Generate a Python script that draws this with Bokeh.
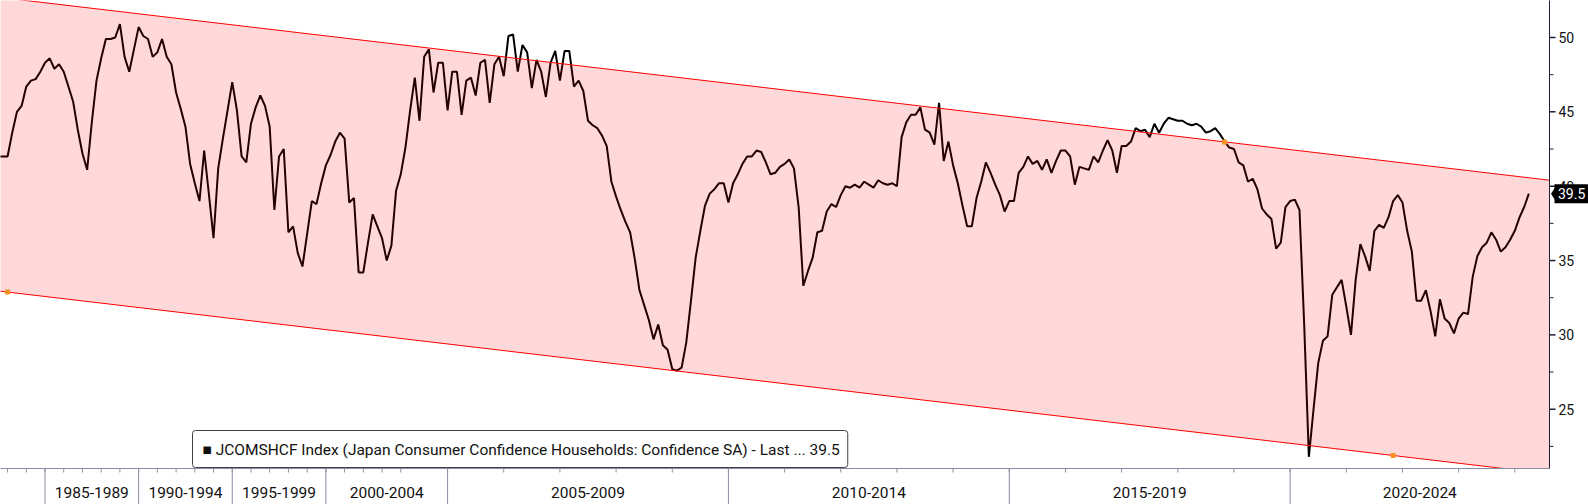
from bokeh.plotting import figure
from bokeh.models import Range1d, Label
from bokeh.core.properties import value
from bokeh.embed import file_html
from bokeh.resources import INLINE

# Observation index: quarterly 1982Q2..2004Q1 (88 obs), then monthly 2004-04..2024-03 (240 obs)
quarterly_values = [
    42.0, 42.0, 42.0, 43.6, 45.0, 45.4, 46.7, 47.1, 47.2, 47.7,
    48.3, 48.6, 47.9, 48.2, 47.7, 46.7, 45.7, 43.8, 42.2, 41.1,
    44.3, 47.1, 48.6, 49.9, 49.9, 50.0, 50.9, 48.7, 47.7, 49.2,
    50.7, 50.1, 49.9, 48.7, 49.0, 49.9, 48.7, 48.2, 46.3, 45.2,
    44.0, 41.5, 40.2, 39.0, 42.4, 39.5, 36.5, 41.2, 43.2, 45.1,
    47.0, 45.1, 42.0, 41.6, 44.2, 45.3, 46.1, 45.4, 44.0, 38.4,
    42.0, 42.5, 36.9, 37.3, 35.5, 34.6, 36.8, 39.0, 38.8, 40.2,
    41.4, 42.1, 43.0, 43.6, 43.2, 38.9, 39.2, 34.2, 34.2, 36.2,
    38.1, 37.3, 36.5, 35.0, 36.0, 39.7, 40.8, 42.6,
]
monthly_values = [
    45.1, 47.3, 44.4, 48.7, 49.2, 46.3, 48.3, 48.3, 45.1, 47.7,
    47.7, 44.8, 47.1, 47.3, 46.1, 48.3, 48.5, 45.6, 48.2, 48.7,
    47.4, 50.1, 50.2, 47.7, 49.5, 49.0, 46.6, 48.5, 47.7, 46.0,
    48.3, 49.1, 47.1, 49.1, 49.1, 46.7, 47.1, 46.4, 44.4, 44.1,
    43.9, 43.4, 42.7, 40.3, 39.3, 38.4, 37.6, 36.9, 35.1, 33.0,
    32.0, 31.0, 29.7, 30.7, 29.3, 29.0, 27.7, 27.6, 27.8, 29.5,
    32.3, 35.2, 37.0, 38.7, 39.5, 39.8, 40.2, 40.2, 38.9, 40.2,
    40.8, 41.5, 42.0, 42.0, 42.4, 42.3, 41.6, 40.8, 40.9, 41.3,
    41.5, 41.8, 41.2, 38.6, 33.3, 34.3, 35.2, 36.9, 37.0, 38.3,
    38.8, 38.6, 39.4, 40.0, 39.9, 40.1, 39.9, 40.3, 40.1, 39.9,
    40.4, 40.2, 40.1, 40.2, 40.0, 43.3, 44.3, 44.8, 44.8, 45.3,
    43.8, 43.6, 42.8, 45.6, 41.7, 43.0, 41.4, 40.2, 38.7, 37.3,
    37.3, 39.2, 40.3, 41.6, 40.9, 40.1, 39.4, 38.3, 39.0, 39.0,
    40.9, 41.3, 42.0, 41.5, 41.7, 41.1, 41.8, 40.9, 41.7, 42.4,
    42.4, 42.0, 40.1, 41.3, 41.2, 41.1, 42.0, 41.6, 42.4, 43.1,
    42.4, 40.9, 42.7, 42.7, 43.0, 43.9, 43.7, 43.8, 43.3, 44.2,
    43.6, 44.2, 44.6, 44.5, 44.4, 44.4, 44.2, 44.1, 44.2, 44.0,
    43.6, 43.7, 43.9, 43.5, 43.0, 42.6, 42.5, 41.6, 41.4, 40.3,
    40.5, 39.8, 38.5, 38.1, 37.8, 35.8, 36.2, 38.6, 39.0, 39.1,
    38.4, 30.7, 21.8, 25.0, 28.1, 29.6, 29.9, 32.7, 33.2, 33.7,
    31.9, 30.0, 33.7, 36.1, 35.3, 34.3, 37.0, 37.4, 37.2, 37.9,
    39.0, 39.4, 38.9, 37.0, 35.6, 32.3, 32.3, 33.0, 31.6, 29.9,
    32.4, 31.1, 30.8, 30.1, 31.1, 31.5, 31.4, 33.9, 35.3, 35.9,
    36.2, 36.9, 36.4, 35.6, 35.9, 36.4, 37.0, 37.9, 38.6, 39.5,
]
period_labels = ["1985-1989", "1990-1994", "1995-1999", "2000-2004",
                 "2005-2009", "2010-2014", "2015-2019", "2020-2024"]
period_first_obs = [11, 31, 51, 71, 97, 157, 217, 277]
quarterly_year_ticks = [2, 6, 10, 14, 18, 22, 26, 30, 34, 38, 42, 46, 50, 54, 58, 62, 66, 70, 74, 78, 82, 86]
monthly_year_ticks = [96, 108, 120, 132, 144, 156, 168, 180, 192, 204, 216, 228, 240,
                      252, 264, 276, 288, 300, 312, 324]

channel_lower_anchor_x = [2, 298]
channel_lower_anchor_y = [32.88, 21.89]
channel_upper_anchor_x = [262]
channel_upper_anchor_y = [42.98]

y_ticks = [25, 30, 35, 40, 45, 50]
y_minor_ticks = [22.5, 27.5, 32.5, 37.5, 42.5, 47.5]

legend_text = "\u25A0 JCOMSHCF Index (Japan Consumer Confidence Households: Confidence SA) - Last ... 39.5"

values = quarterly_values + monthly_values
idx = list(range(len(values)))
last_value = values[-1]

FONT = "Roboto"
W, H = 1588, 504
X_START, X_END = 0.491, 339.74
Y_START, Y_END = 18.594, 52.488
dx = (X_END - X_START) / W      # data units per pixel
dy = (Y_END - Y_START) / H
AXIS_X = X_START + 1549 * dx    # right axis position
AXIS_Y = Y_END - 468 * dy       # bottom axis position

p = figure(width=W, height=H, x_range=Range1d(X_START, X_END), y_range=Range1d(Y_START, Y_END),
           x_axis_location=None, y_axis_location=None, output_backend="svg",
           toolbar_location=None, min_border=0)
p.outline_line_color = None
p.grid.visible = False
p.background_fill_color = "white"
p.border_fill_color = "white"

# data line
p.line(idx, values, line_color="black", line_width=2)

# trend channel (drawn over the line, translucent)
slope = (channel_lower_anchor_y[1] - channel_lower_anchor_y[0]) / (channel_lower_anchor_x[1] - channel_lower_anchor_x[0])
def lower(x):
    return channel_lower_anchor_y[0] + slope * (x - channel_lower_anchor_x[0])
offset = channel_upper_anchor_y[0] - lower(channel_upper_anchor_x[0])
def upper(x):
    return lower(x) + offset
x0, x1 = -5, AXIS_X
x_cross = channel_lower_anchor_x[0] + (AXIS_Y - channel_lower_anchor_y[0]) / slope
p.patch([x0, x1, x1, x_cross, x0], [upper(x0), upper(x1), AXIS_Y, AXIS_Y, lower(x0)],
        fill_color="#FF0000", fill_alpha=0.15, line_color=None)
p.line([x0, x1], [upper(x0), upper(x1)], line_color="#FF0000", line_width=1)
p.line([x0, x_cross], [lower(x0), lower(x_cross)], line_color="#FF0000", line_width=1)
p.scatter(channel_lower_anchor_x + channel_upper_anchor_x,
          channel_lower_anchor_y + channel_upper_anchor_y,
          marker="square", size=5, fill_color="#F7941E", line_color=None)

# bottom (time) axis
grey = "#8c8ca4"
separators = [f - 1 for f in period_first_obs]
year_ticks = quarterly_year_ticks + monthly_year_ticks
p.segment(x0=[X_START - 1], y0=[AXIS_Y], x1=[AXIS_X], y1=[AXIS_Y], line_color=grey, line_width=1)
p.segment(x0=separators, y0=[AXIS_Y] * len(separators), x1=separators,
          y1=[Y_START - 1] * len(separators), line_color=grey, line_width=1)
p.segment(x0=year_ticks, y0=[AXIS_Y] * len(year_ticks), x1=year_ticks,
          y1=[AXIS_Y - 4 * dy] * len(year_ticks), line_color=grey, line_width=1)
bounds = separators + [AXIS_X]
centers = [(bounds[i] + bounds[i + 1]) / 2 for i in range(len(period_labels))]
p.text(x=centers, y=[Y_END - 491.5 * dy] * len(centers), text=period_labels,
       text_align="center", text_baseline="middle", text_font=value(FONT),
       text_font_size=value("15.5px"), text_color="#111111")

# right (value) axis
navy = "#1e1e38"
p.segment(x0=[AXIS_X], y0=[AXIS_Y], x1=[AXIS_X], y1=[Y_END + 1], line_color=navy, line_width=1)
p.segment(x0=[AXIS_X] * len(y_ticks), y0=y_ticks, x1=[AXIS_X + 6 * dx] * len(y_ticks), y1=y_ticks,
          line_color=navy, line_width=1.5)
p.segment(x0=[AXIS_X] * len(y_minor_ticks), y0=y_minor_ticks,
          x1=[AXIS_X + 4 * dx] * len(y_minor_ticks), y1=y_minor_ticks, line_color=navy, line_width=1)
p.text(x=[AXIS_X + 9 * dx] * len(y_ticks), y=y_ticks, text=[str(t) for t in y_ticks],
       text_align="left", text_baseline="middle", text_font=value(FONT),
       text_font_size=value("14px"), text_color="#111111")

# last value callout
p.patch([AXIS_X + 1.5 * dx, AXIS_X + 6 * dx, AXIS_X + 6 * dx],
        [last_value, last_value + 7 * dy, last_value - 7 * dy], fill_color="black", line_color=None)
p.rect(x=[AXIS_X + 24 * dx], y=[last_value], width=[38], height=[19],
       width_units="screen", height_units="screen", fill_color="black", line_color=None)
p.text(x=[AXIS_X + 8.5 * dx], y=[last_value], text=[f"{last_value:.1f}"],
       text_align="left", text_baseline="middle", text_font=value(FONT),
       text_font_size=value("14px"), text_color="white")

# legend box
p.add_layout(Label(x=192, y=H - 467, x_units="screen", y_units="screen", text=legend_text,
                   text_align="left", text_baseline="bottom",
                   text_font=FONT, text_font_size="15.5px", text_color="#111111",
                   background_fill_color="white", background_fill_alpha=1,
                   border_line_color="#404040", border_line_width=1,
                   padding=(10, 8, 10, 9), border_radius=3))

open("out.html", "w").write(file_html(p, INLINE))
